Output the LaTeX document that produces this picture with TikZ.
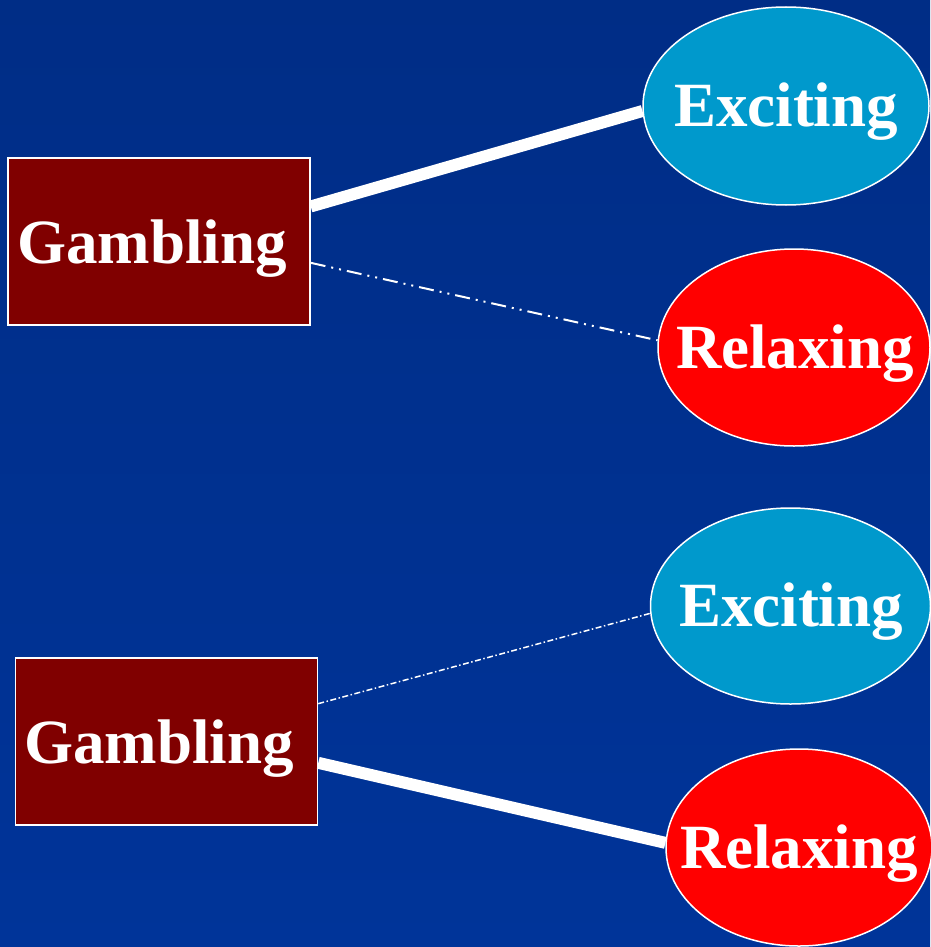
\documentclass[tikz,border=0pt]{standalone}
\usepackage{fontspec}
\setmainfont{Liberation Serif}
\usetikzlibrary{shapes.geometric}
\definecolor{bgtop}{RGB}{0,45,134}
\definecolor{bgbot}{RGB}{0,52,153}
\definecolor{boxred}{RGB}{128,0,0}
\definecolor{excol}{RGB}{0,153,204}
\definecolor{relcol}{RGB}{255,0,0}
\tikzset{
  gbox/.style={draw=white, line width=1.5pt, fill=boxred, minimum width=302pt, minimum height=167pt, inner sep=0pt},
  ell/.style={ellipse, draw=white, line width=1.5pt, inner sep=0pt},
  lbl/.style={text=white, font=\fontsize{63}{63}\selectfont\bfseries, inner sep=0pt},
  strong/.style={white, line width=12pt},
  weakA/.style={white, line width=2pt, dash pattern=on 15pt off 6pt on 2pt off 6pt on 2pt off 6pt},
  weakB/.style={white, line width=1.5pt, dash pattern=on 6pt off 2.5pt on 1.5pt off 2.5pt},
}
\begin{document}
\begin{tikzpicture}[x=1pt,y=-1pt]
\shade[top color=bgtop, bottom color=bgbot] (0,0) rectangle (930,947);
\useasboundingbox (0,0) rectangle (930,947);
% top group
\node[gbox] (g1) at (159,241.5) {};
\node[lbl] at (152,249) {Gambling};
\node[ell, fill=excol, minimum width=286pt, minimum height=198pt] (e1) at (786,106) {};
\node[lbl] at (786,112) {Exciting};
\node[ell, fill=relcol, minimum width=272pt, minimum height=197pt] (r1) at (794,347.5) {};
\node[lbl] at (795,354) {Relaxing};
\draw[strong] (g1.13.6) -- (e1.182);
\draw[weakA] (g1.-8.8) -- (r1.177);
% bottom group
\node[gbox] (g2) at (166.5,741.5) {};
\node[lbl] at (159,749) {Gambling};
\node[ell, fill=excol, minimum width=280pt, minimum height=196pt] (e2) at (790.5,606) {};
\node[lbl] at (791,612) {Exciting};
\node[ell, fill=relcol, minimum width=266pt, minimum height=197pt] (r2) at (799,847.5) {};
\node[lbl] at (799,854) {Relaxing};
\draw[weakB] (g2.14.3) -- (e2.183);
\draw[strong] (g2.-8.8) -- (r2.178);
\end{tikzpicture}
\end{document}
